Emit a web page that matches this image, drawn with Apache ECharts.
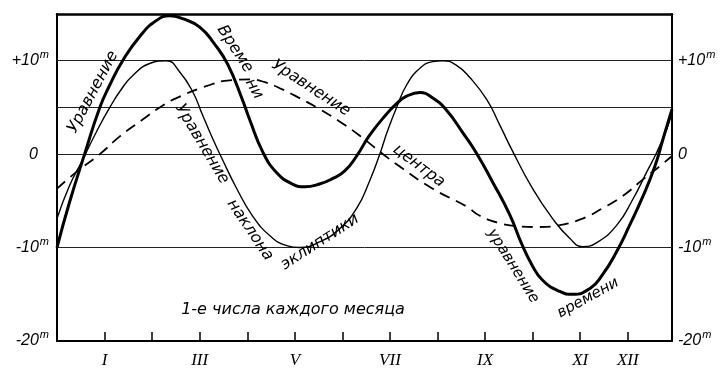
<!DOCTYPE html>
<html>
<head>
<meta charset="utf-8">
<script src="https://cdn.jsdelivr.net/npm/echarts@6/dist/echarts.min.js"></script>
<style>html,body{margin:0;padding:0;background:#fff;}#c{width:723px;height:369px;}</style>
</head>
<body>
<div id="c"></div>
<script>
// x values are months counted from 1 December (0) ; I = 1 January, etc.
const eqTimeMonths = [0,0.26,0.58,0.90,1.11,1.38,1.74,2.09,2.37,2.64,3.00,3.31,3.59,3.90,4.05,4.32,4.62,4.95,5.21,5.52,5.80,6.05,6.30,6.57,6.93,7.14,7.35,7.63,7.90,8.19,8.53,8.82,9.16,9.52,9.77,9.98,10.21,10.57,10.84,11.20,11.47,11.77,12.04,12.32,12.57,12.74,12.93];
const eqTimeValues = [-10,-5.2,0,5,7.4,10,12.6,14.3,14.8,14.5,13.6,11.8,9.6,5.8,3.7,0.3,-2,-3.2,-3.5,-3.2,-2.6,-1.8,-0.2,2.0,4.3,5.4,6.2,6.6,6.0,4.7,2.3,0.1,-3,-6.5,-9.6,-11.8,-13.5,-14.7,-15,-14.4,-12.9,-10.4,-7.6,-4.5,-1.3,1.6,4.8];

const obliquityMonths = [0,0.26,0.54,0.83,1.11,1.36,1.59,1.95,2.30,2.58,2.85,3.06,3.27,3.48,3.78,4.11,4.47,4.83,5.10,5.52,5.94,6.30,6.57,6.78,6.95,7.14,7.35,7.63,7.90,8.11,8.40,8.68,9.04,9.31,9.58,10.0,10.42,10.78,11.05,11.34,11.77,12.11,12.40,12.61,12.82,12.93];
const obliquityValues = [-6.9,-3.4,-0.6,2.4,5.0,7.0,8.4,9.7,10,8.8,6.7,4.2,1.7,-0.6,-3.7,-6.6,-8.7,-9.8,-10,-9.4,-8.0,-5.8,-2.9,-0.1,2.5,5.0,7.4,9.2,9.9,10,9.5,8.2,5.8,3.1,0.3,-3.7,-6.9,-9,-9.9,-9.5,-7.6,-4.8,-1.9,0.2,2.7,4.5];

const centerMonths = [0,0.41,0.90,1.32,1.80,2.16,2.51,3.21,3.63,4.05,4.37,4.75,5.10,5.46,5.94,6.36,6.78,7.20,7.90,8.61,8.89,9.31,9.66,10.09,10.57,11.05,11.47,11.89,12.32,12.67,12.93];
const centerValues = [-3.7,-1.9,0,1.9,3.7,5.0,6.0,7.4,7.9,8.0,7.7,6.9,6.0,5.0,3.5,2.0,0.3,-1.3,-3.7,-5.6,-6.6,-7.4,-7.7,-7.8,-7.6,-6.9,-5.8,-4.5,-2.7,-1.3,-0.2];

const monthLabels = ['', 'I', '', 'III', '', 'V', '', 'VII', '', 'IX', '', 'XI', 'XII'];
const yTickValues = [10, 0, -10, -20];
const yTickTexts = ['+10', '0', '-10', '-20'];
const yTickUnits = ['m', '', 'm', 'm'];
const gridLevels = [10, 5, 0, -10];
const bottomCaption = '1-е числа каждого месяца';

const pair = (xs, ys) => xs.map((x, i) => [x, ys[i]]);
const FONT = 'DejaVu Sans';

function yFmt(v) {
  const i = yTickValues.indexOf(v);
  if (i < 0) return '';
  return '{n|' + yTickTexts[i] + '}' + (yTickUnits[i] ? '{m|' + yTickUnits[i] + '}' : '{z| }');
}
const yRich = {
  n: {fontSize: 16, fontStyle: 'italic', fontFamily: 'Liberation Sans', color: '#000', lineHeight: 18},
  m: {fontSize: 11, fontStyle: 'italic', fontFamily: 'Liberation Sans', color: '#000', padding: [0, 0, 12, 1]},
  z: {fontSize: 11, padding: [0, 8, 0, 0]}
};

const chart = echarts.init(document.getElementById('c'), null, {renderer: 'canvas'});

function lbl(text, x, y, deg, size) {
  return {
    type: 'text', x: x, y: y, rotation: deg * Math.PI / 180, z: 10,
    style: {
      text: text, fill: '#000', fontSize: size || 16, fontStyle: 'italic', fontFamily: FONT,
      align: 'center', verticalAlign: 'middle', textAlign: 'center', textVerticalAlign: 'middle'
    }
  };
}

chart.setOption({
  animation: false,
  backgroundColor: '#fff',
  grid: {left: 57, right: 51, top: 14, bottom: 25},
  xAxis: [{
    type: 'value', min: 0, max: 12.93, interval: 1, position: 'bottom',
    axisLine: {show: true, onZero: false, lineStyle: {color: '#000', width: 2}},
    axisTick: {show: true, inside: true, length: 9, lineStyle: {color: '#000', width: 1.5}},
    splitLine: {show: false},
    axisLabel: {
      margin: 11, color: '#000', fontSize: 17, fontStyle: 'italic', fontFamily: 'Liberation Serif',
      showMaxLabel: false, showMinLabel: false,
      formatter: v => (Number.isInteger(v) && monthLabels[v]) ? monthLabels[v] : ''
    }
  }, {
    type: 'value', min: 0, max: 12.93, position: 'top',
    axisLine: {show: true, onZero: false, lineStyle: {color: '#000', width: 2.5}},
    axisTick: {show: false}, axisLabel: {show: false}, splitLine: {show: false}
  }],
  yAxis: [{
    type: 'value', min: -20, max: 15, interval: 5, position: 'left',
    axisLine: {show: true, onZero: false, lineStyle: {color: '#000', width: 2}},
    axisTick: {show: false}, splitLine: {show: false},
    axisLabel: {margin: 8, formatter: yFmt, rich: yRich, showMaxLabel: true}
  }, {
    type: 'value', min: -20, max: 15, interval: 5, position: 'right',
    axisLine: {show: true, onZero: false, lineStyle: {color: '#000', width: 2}},
    axisTick: {show: false}, splitLine: {show: false},
    axisLabel: {margin: 6, formatter: yFmt, rich: yRich}
  }],
  graphic: [
    lbl('Уравнение', 93, 92, 62, 16),
    lbl('Време', 235, 49, -57, 16),
    lbl('ни', 254, 89, -60, 16),
    lbl('Уравнение', 311, 88, -33, 16),
    lbl('центра', 419, 166, -37, 16),
    lbl('Уравнение', 202, 144, -59, 16),
    lbl('наклона', 250, 230, -56, 16),
    lbl('эклиптики', 320, 242, 33, 16),
    lbl('уравнение', 513, 266, -58, 15),
    lbl('времени', 588, 298, 29, 15),
    lbl(bottomCaption, 293, 310, 0, 16)
  ],
  series: [{
    name: 'center', type: 'line', data: pair(centerMonths, centerValues),
    smooth: 0.5, showSymbol: false, symbol: 'none', z: 3,
    lineStyle: {color: '#000', width: 1.8, type: [11, 7]},
    markLine: {
      silent: true, symbol: 'none', label: {show: false}, z: 1,
      lineStyle: {color: '#222', width: 1, type: 'solid'},
      data: gridLevels.map(v => ({yAxis: v}))
    }
  }, {
    name: 'obliquity', type: 'line', data: pair(obliquityMonths, obliquityValues),
    smooth: 0.5, showSymbol: false, symbol: 'none', z: 4,
    lineStyle: {color: '#000', width: 1.4}
  }, {
    name: 'time', type: 'line', data: pair(eqTimeMonths, eqTimeValues),
    smooth: 0.5, showSymbol: false, symbol: 'none', z: 5,
    lineStyle: {color: '#000', width: 3}
  }]
});
</script>
</body>
</html>
